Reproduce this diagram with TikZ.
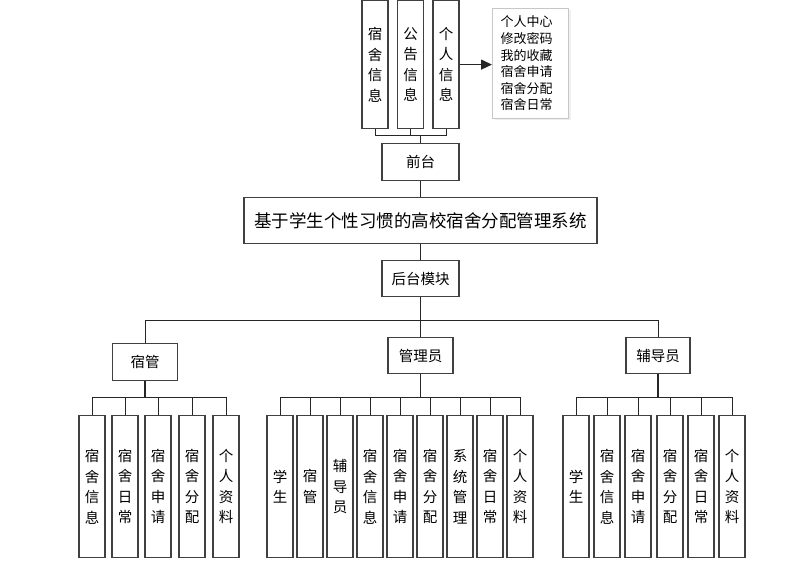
\documentclass[tikz,border=0pt]{standalone}
\usepackage{fontspec}
\setmainfont{Noto Sans CJK SC}
\usetikzlibrary{arrows.meta,shadows}
\begin{document}
\begin{tikzpicture}[x=1pt,y=-1pt,
  box/.style={draw=black!75, line width=1.2pt, fill=white, inner sep=0pt},
  vbox/.style={box, minimum width=26pt, align=center, font=\fontsize{14.5}{20.5}\selectfont},
  hbox/.style={box, font=\fontsize{14.5}{17}\selectfont},
  link/.style={draw=black!85, line width=1pt}
]
\useasboundingbox (0,0) rectangle (806,564);
% top boxes
\node[vbox, minimum height=128pt, anchor=north] (t1) at (375,0) {宿\\舍\\信\\息};
\node[vbox, minimum height=128pt, anchor=north] (t2) at (410.5,0) {公\\告\\信\\息};
\node[vbox, minimum height=128pt, anchor=north] (t3) at (446,0) {个\\人\\信\\息};
\node[draw=black!22, line width=1pt, fill=white, drop shadow={shadow xshift=2pt, shadow yshift=-2pt, fill=black!12}, anchor=north west, text width=60pt, minimum height=110pt, inner xsep=8pt, inner ysep=0pt, align=left, font=\fontsize{13}{16.6}\selectfont] (menu) at (492,8) {个人中心\\修改密码\\我的收藏\\宿舍申请\\宿舍分配\\宿舍日常};
\draw[link, line width=1.3pt, -{Triangle[length=11pt,width=10pt]}] (t3.east) -- (menu.west |- t3.east);
% front
\node[hbox, minimum width=77pt, minimum height=37pt, anchor=north] (qt) at (420.5,143) {前台};
\coordinate (tbus) at (420.5,136);
\draw[link] (t1.south) -- (t1.south |- tbus) -- (t3.south |- tbus) -- (t3.south);
\draw[link] (t2.south) -- (t2.south |- tbus);
\draw[link] (qt.north) -- (tbus);
% system
\node[box, minimum width=353pt, minimum height=46pt, anchor=north, font=\fontsize{17.5}{20}\selectfont] (sys) at (420.5,197) {基于学生个性习惯的高校宿舍分配管理系统};
\draw[link] (qt.south) -- (sys.north);
\node[hbox, minimum width=77pt, minimum height=36pt, anchor=north] (ht) at (420.5,260) {后台模块};
\draw[link] (sys.south) -- (ht.north);
% second level
\node[hbox, minimum width=65pt, minimum height=37pt, anchor=north] (sg) at (145,343) {宿管};
\node[hbox, minimum width=65pt, minimum height=36pt, anchor=north] (gl) at (420.5,337) {管理员};
\node[hbox, minimum width=64pt, minimum height=36pt, anchor=north] (fd) at (658,337) {辅导员};
\coordinate (mbus) at (420.5,320);
\draw[link] (ht.south) -- (mbus);
\draw[link] (sg.north) -- (sg.north |- mbus) -- (fd.north |- mbus) -- (fd.north);
\draw[link] (gl.north) -- (mbus);
% leaves of 宿管
\foreach \n/\x/\t in {1/92/{宿\\舍\\信\\息},2/125/{宿\\舍\\日\\常},3/158/{宿\\舍\\申\\请},4/192/{宿\\舍\\分\\配},5/226/{个\\人\\资\\料}}
  \node[vbox, minimum height=142pt, anchor=north] (a\n) at (\x,415) {\t};
\coordinate (abus) at (145,397);
\draw[link, line width=1.5pt] (sg.south) -- (abus);
\draw[link] (a1.north) -- (a1.north |- abus) -- (a5.north |- abus) -- (a5.north);
\foreach \n in {2,3,4} \draw[link] (a\n.north) -- (a\n.north |- abus);
% leaves of 管理员
\foreach \n/\x/\t in {1/280/{学\\生},2/310/{宿\\管},3/340/{辅\\导\\员},4/370/{宿\\舍\\信\\息},5/400/{宿\\舍\\申\\请},6/430/{宿\\舍\\分\\配},7/460/{系\\统\\管\\理},8/490/{宿\\舍\\日\\常},9/520/{个\\人\\资\\料}}
  \node[vbox, minimum height=142pt, anchor=north] (b\n) at (\x,415) {\t};
\coordinate (bbus) at (420.5,397);
\draw[link] (gl.south) -- (bbus);
\draw[link] (b1.north) -- (b1.north |- bbus) -- (b9.north |- bbus) -- (b9.north);
\foreach \n in {2,...,8} \draw[link] (b\n.north) -- (b\n.north |- bbus);
% leaves of 辅导员
\foreach \n/\x/\t in {1/576/{学\\生},2/607/{宿\\舍\\信\\息},3/638/{宿\\舍\\申\\请},4/670/{宿\\舍\\分\\配},5/701/{宿\\舍\\日\\常},6/732/{个\\人\\资\\料}}
  \node[vbox, minimum height=142pt, anchor=north] (c\n) at (\x,415) {\t};
\coordinate (cbus) at (658,397);
\draw[link, line width=1.5pt] (fd.south) -- (cbus);
\draw[link] (c1.north) -- (c1.north |- cbus) -- (c6.north |- cbus) -- (c6.north);
\foreach \n in {2,...,5} \draw[link] (c\n.north) -- (c\n.north |- cbus);
\end{tikzpicture}
\end{document}
